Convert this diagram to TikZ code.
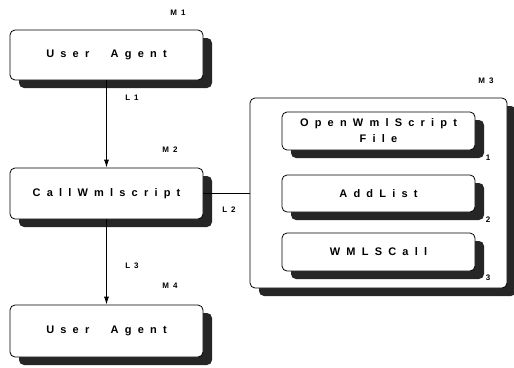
\documentclass[tikz,border=0pt]{standalone}
\usepackage{fontspec}
\setmainfont{Liberation Sans}
\usetikzlibrary{shadows,arrows.meta}
\makeatletter
\newlength\lsgap
\newcommand\spaced[1]{\@tfor\ls@c:=#1\do{\ls@c\hskip\lsgap}\unskip}
\makeatother
\newcommand\wgap{\hskip9pt}

\begin{document}
\begin{tikzpicture}[x=1pt,y=-1pt,
  module/.style={draw,thick,rounded corners=5pt,fill=white,
    minimum width=193pt,align=center,
    font=\bfseries\fontsize{11}{16}\selectfont\setlength\lsgap{6.2pt},
    drop shadow={shadow xshift=9pt,shadow yshift=-8pt,fill=black!85,opacity=1}},
  tag/.style={font=\bfseries\fontsize{8}{8}\selectfont\setlength\lsgap{4pt},inner sep=0pt},
  link/.style={thick,-{Latex[length=8pt,width=5pt]}}]
  \def \CX {106.5}
  \def \RX {378.5}
  \useasboundingbox (0,0) rectangle (514,367);

  \node[module,minimum height=50pt] (ua1) at (\CX,55) {\spaced{User\wgap Agent}};
  \node[module,minimum height=51pt] (call) at (\CX,193.5) {\spaced{CallWmlscript}};
  \node[module,minimum height=52pt] (ua2) at (\CX,331) {\spaced{User\wgap Agent}};

  \node[module,minimum width=257pt,minimum height=190pt] (lib) at (\RX,193) {};
  \node[module,minimum height=38pt] (open) at (\RX,131) {\spaced{OpenWmlScript}\\\spaced{File}};
  \node[module,minimum height=37pt] (add) at (\RX,193.5) {\spaced{AddList}};
  \node[module,minimum height=38pt] (wmls) at (\RX,252) {\spaced{WMLSCall}};

  \draw[link] (ua1) -- (call);
  \draw[link] (call) -- (ua2);
  \draw[thick] (call.east) -- (call.east -| lib.west);

  \node[tag] (m1) at (178,13) {\spaced{M1}};
  \node[tag] (m2) at (170,150) {\spaced{M2}};
  \node[tag] (m3) at (486,81) {\spaced{M3}};
  \node[tag] (m4) at (170,286) {\spaced{M4}};
  \node[tag] (l1) at (132,98) {\spaced{L1}};
  \node[tag] (l2) at (229,210) {\spaced{L2}};
  \node[tag] (l3) at (132,266) {\spaced{L3}};
  \node[tag] (n1) at (488,158) {1};
  \node[tag] (n2) at (488,220) {2};
  \node[tag] (n3) at (488,278) {3};

\end{tikzpicture}
\end{document}
